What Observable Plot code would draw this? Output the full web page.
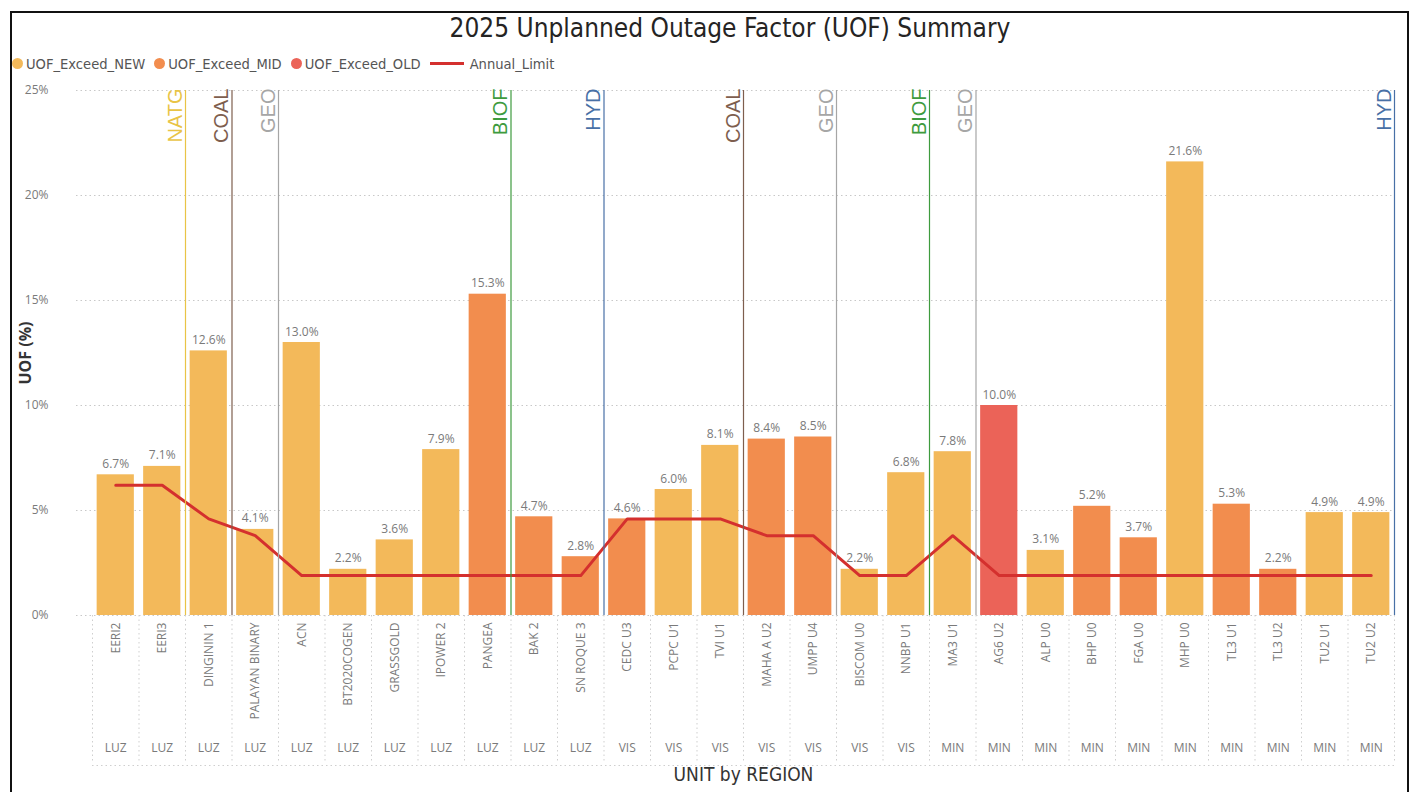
<!DOCTYPE html>
<html>
<head>
<meta charset="utf-8">
<script src="https://cdn.jsdelivr.net/npm/d3@7"></script>
<script src="https://cdn.jsdelivr.net/npm/@observablehq/plot@0.6"></script>
<style>
  html, body { margin: 0; padding: 0; background: #fff; width: 1416px; height: 792px; overflow: hidden; }
  #frame { position: absolute; left: 10px; top: 11px; width: 1395px; height: 800px; border: 2px solid #111; border-bottom: none; }
  #title { position: absolute; left: 330px; width: 800px; top: 13px; text-align: center; font-family: "DejaVu Sans Condensed", Roboto, sans-serif; font-size: 26px; color: #252423; }
  #legend { position: absolute; left: 12px; top: 54px; height: 18px; font-family: "DejaVu Sans Condensed", Roboto, sans-serif; font-size: 14.6px; color: #555; display: flex; align-items: center; white-space: nowrap; }
  #legend .item { display: flex; align-items: center; margin-right: 9px; }
  #legend .dot { width: 11px; height: 11px; border-radius: 50%; margin-right: 3px; }
  #legend .line { width: 34px; height: 3px; margin-right: 6px; }
  #chart { position: absolute; left: 0; top: 75px; }
</style>
</head>
<body>
<div id="frame"></div>
<div id="title">2025 Unplanned Outage Factor (UOF) Summary</div>
<div id="legend"></div>
<div id="chart"></div>
<script>
// ---- data ----
const units = ["EERI2","EERI3","DINGININ 1","PALAYAN BINARY","ACN","BT2020COGEN","GRASSGOLD","IPOWER 2","PANGEA","BAK 2","SN ROQUE 3","CEDC U3","PCPC U1","TVI U1","MAHA A U2","UMPP U4","BISCOM U0","NNBP U1","MA3 U1","AG6 U2","ALP U0","BHP U0","FGA U0","MHP U0","TL3 U1","TL3 U2","TU2 U1","TU2 U2"];
const regions = ["LUZ","LUZ","LUZ","LUZ","LUZ","LUZ","LUZ","LUZ","LUZ","LUZ","LUZ","VIS","VIS","VIS","VIS","VIS","VIS","VIS","MIN","MIN","MIN","MIN","MIN","MIN","MIN","MIN","MIN","MIN"];
const uofValues = [6.7,7.1,12.6,4.1,13.0,2.2,3.6,7.9,15.3,4.7,2.8,4.6,6.0,8.1,8.4,8.5,2.2,6.8,7.8,10.0,3.1,5.2,3.7,21.6,5.3,2.2,4.9,4.9];
const exceedTypes = ["NEW","NEW","NEW","NEW","NEW","NEW","NEW","NEW","MID","MID","MID","MID","NEW","NEW","MID","MID","NEW","NEW","NEW","OLD","NEW","MID","MID","NEW","MID","MID","NEW","NEW"];
const annualLimit = [6.2,6.2,4.6,3.8,1.9,1.9,1.9,1.9,1.9,1.9,1.9,4.6,4.6,4.6,3.8,3.8,1.9,1.9,3.8,1.9,1.9,1.9,1.9,1.9,1.9,1.9,1.9,1.9];
const fuelNames = ["NATG","COAL","GEO","BIOF","HYD","COAL","GEO","BIOF","GEO","HYD"];
const fuelGroupLast = ["EERI3","DINGININ 1","PALAYAN BINARY","PANGEA","SN ROQUE 3","TVI U1","UMPP U4","NNBP U1","MA3 U1","TU2 U2"];
const fuelColors = {NATG: "#E9C446", COAL: "#7E5E4E", GEO: "#A6A6A6", BIOF: "#3E9B3E", HYD: "#4870A6"};
const typeNames = ["NEW","MID","OLD"];
const typeLabels = ["UOF_Exceed_NEW","UOF_Exceed_MID","UOF_Exceed_OLD"];
const typeColors = ["#F3B95A","#F28D4E","#EB6358"];
const limitColor = "#D4302E";
const yTicks = [0,5,10,15,20,25];

// ---- tables ----
const rows = units.map((u, i) => ({unit: u, region: regions[i], uof: uofValues[i], type: exceedTypes[i], limit: annualLimit[i]}));
const fuels = fuelNames.map((f, i) => ({fuel: f, unit: fuelGroupLast[i]}));
const regionOf = Object.fromEntries(units.map((u, i) => [u, regions[i]]));

// ---- legend ----
const legend = document.getElementById("legend");
typeLabels.forEach((t, i) => {
  const it = document.createElement("div"); it.className = "item";
  it.innerHTML = `<span class="dot" style="background:${typeColors[i]}"></span><span>${t}</span>`;
  legend.appendChild(it);
});
{
  const it = document.createElement("div"); it.className = "item";
  it.innerHTML = `<span class="line" style="background:${limitColor}"></span><span>Annual_Limit</span>`;
  legend.appendChild(it);
}

// ---- chart ----
const W = 1416, H = 717, ML = 92, MR = 22, MT = 15, MB = 177;
const step = (W - ML - MR) / units.length;
const font = "'Open Sans', 'Noto Sans', sans-serif";
const grey = "#7a7a7a";

const marks = [
  Plot.ruleY(yTicks, {y: d => d, stroke: "#c8c8c8", strokeDasharray: "1.5,3", insetLeft: -16}),
  Plot.barY(rows, {x: "unit", y: "uof", fill: "type"}),
  Plot.lineY(rows, {x: "unit", y: "limit", stroke: limitColor, strokeWidth: 3}),
  Plot.text(rows, {x: "unit", y: "uof", text: d => d.uof.toFixed(1) + "%", dy: -7, lineAnchor: "bottom", fill: grey, fontSize: 12, fontFamily: font}),
  // separators below axis
  Plot.axisX({ticks: units, tickSize: 146, tickFormat: () => "", dx: step / 2, stroke: "#cfcfcf", strokeDasharray: "1.5,3", label: null}),
  Plot.axisX({ticks: [units[0]], tickSize: 146, tickFormat: () => "", dx: -step / 2, stroke: "#cfcfcf", strokeDasharray: "1.5,3", label: null}),
  Plot.ruleY([0], {stroke: "#cfcfcf", strokeDasharray: "1.5,3", dy: 150}),
  // unit labels
  Plot.axisX({ticks: units, tickSize: 0, tickPadding: 7, tickRotate: -90, fontSize: 12, fill: grey, fontFamily: font, label: null}),
  // region labels
  Plot.axisX({ticks: units, tickSize: 0, tickPadding: 128, tickFormat: d => regionOf[d], fontSize: 12, fill: grey, fontFamily: font, label: null}),
  // y axis
  Plot.axisY({ticks: yTicks, tickSize: 0, tickPadding: 44, tickFormat: d => d + "%", fontSize: 12, fill: grey, fontFamily: font, label: null}),
  Plot.text(["UOF (%)"], {frameAnchor: "left", textAnchor: "middle", dx: -67, rotate: -90, fontSize: 16, fontWeight: "bold", fill: "#333", fontFamily: font}),
  Plot.text(["UNIT by REGION"], {frameAnchor: "bottom", dy: 165, fontSize: 19, fill: "#333", fontFamily: "'DejaVu Sans Condensed', Roboto, sans-serif"})
];
fuels.forEach(f => {
  const c = fuelColors[f.fuel];
  marks.push(Plot.ruleX([f], {x: "unit", y1: 0, y2: 25, dx: step / 2, stroke: c, strokeWidth: 1.2}));
  marks.push(Plot.text([f], {x: "unit", y: () => 25, text: "fuel", rotate: -90, textAnchor: "end", dx: step / 2 - 10, dy: -2, fill: c, fontSize: 20, fontFamily: "'Liberation Sans', Arial, sans-serif"}));
});

const plot = Plot.plot({
  width: W, height: H,
  marginLeft: ML, marginRight: MR, marginTop: MT, marginBottom: MB,
  x: {type: "band", domain: units, paddingInner: 0.2, paddingOuter: 0.1, round: false, axis: null},
  y: {domain: [0, 25], axis: null},
  color: {domain: typeNames, range: typeColors},
  style: {background: "transparent", overflow: "visible"},
  marks
});
document.getElementById("chart").appendChild(plot);
</script>
</body>
</html>
